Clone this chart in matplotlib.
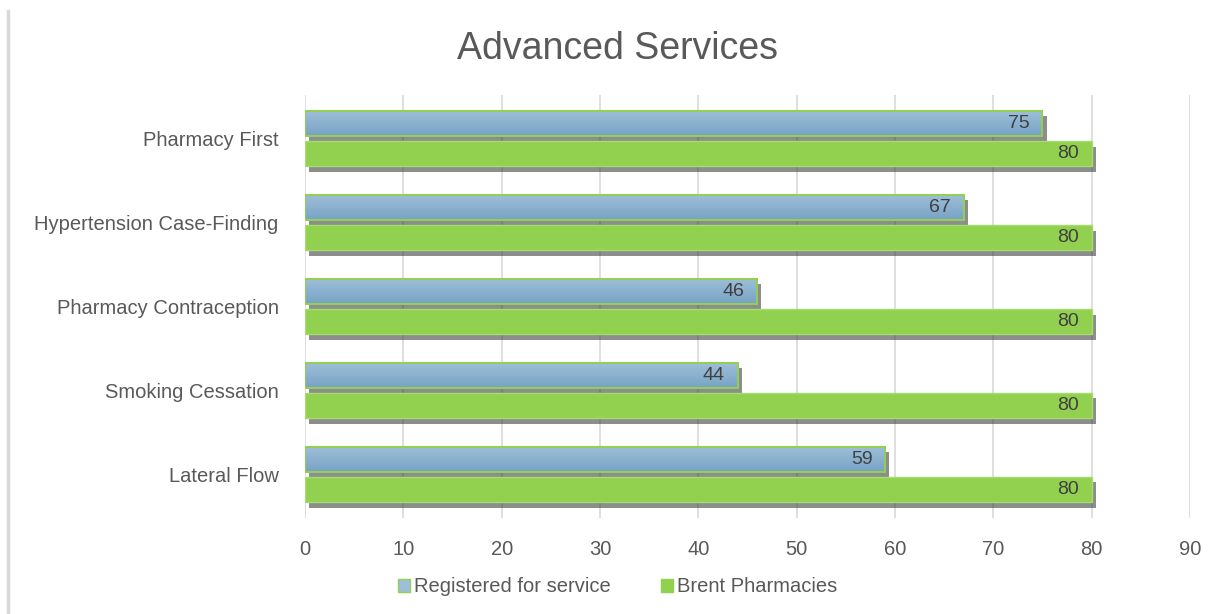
import numpy as np
import matplotlib
matplotlib.use('Agg')
import matplotlib.pyplot as plt
import matplotlib.patheffects as pe
from matplotlib.lines import Line2D
from matplotlib.patches import Patch

matplotlib.rcParams['font.family'] = ['Liberation Sans', 'DejaVu Sans']

categories = ['Pharmacy First', 'Hypertension Case-Finding', 'Pharmacy Contraception',
              'Smoking Cessation', 'Lateral Flow']
registered = [75, 67, 46, 44, 59]
brent = [80, 80, 80, 80, 80]
x_ticks = [0, 10, 20, 30, 40, 50, 60, 70, 80, 90]

text_grey = '#595959'
green = '#92d050'
blue_top = np.array([0.62, 0.75, 0.85])
blue_bot = np.array([0.47, 0.64, 0.77])

fig = plt.figure(figsize=(12.2, 6.14), dpi=100)
ax = fig.add_axes([0.25, 0.1564, 0.7254, 0.6889])

y = np.arange(len(categories))
h = 0.30
off = 0.18
shadow = [pe.SimplePatchShadow(offset=(3, -4), shadow_rgbFace='#303030', alpha=0.55), pe.Normal()]

# gradient for the blue bars
grad = np.linspace(0, 1, 64)[:, None]
grad_img = blue_top[None, None, :] * (1 - grad[:, :, None]) + blue_bot[None, None, :] * grad[:, :, None]

blue_bars = ax.barh(y - off, registered, height=h, color=blue_bot, edgecolor=green,
                    linewidth=1.2, zorder=3, path_effects=shadow)
green_bars = ax.barh(y + off, brent, height=h, color=green, edgecolor='#a6dc6e',
                     linewidth=1.0, zorder=3, path_effects=shadow)

for b in blue_bars:
    x0, y0, w, hh = b.get_x(), b.get_y(), b.get_width(), b.get_height()
    im = ax.imshow(grad_img, extent=[x0, x0 + w, y0 + hh, y0], aspect='auto', zorder=3.5,
                   interpolation='bilinear')
    im.set_clip_path(b)
    ax.barh(y0 + hh / 2, w, left=x0, height=hh, fill=False, edgecolor=green,
            linewidth=1.4, zorder=3.6)

for b, v in zip(blue_bars, registered):
    ax.text(b.get_width() - 1.3, b.get_y() + b.get_height() / 2, str(v), ha='right',
            va='center', fontsize=14, color='#404040', zorder=5)
for b, v in zip(green_bars, brent):
    ax.text(b.get_width() - 1.3, b.get_y() + b.get_height() / 2, str(v), ha='right',
            va='center', fontsize=14, color='#404040', zorder=5)

ax.set_xlim(0, 90)
ax.set_ylim(len(categories) - 0.48, -0.52)
ax.set_xticks(x_ticks)
ax.set_yticks(y)
ax.set_yticklabels(categories)
ax.tick_params(length=0, colors=text_grey, labelsize=14.5)
ax.tick_params(axis='x', pad=16)
ax.tick_params(axis='y', pad=19)
ax.grid(axis='x', color='#d9d9d9', linewidth=1.2, zorder=0)
ax.set_axisbelow(True)
for s in ax.spines.values():
    s.set_visible(False)

fig.text(0.506, 0.92, 'Advanced Services', ha='center', va='center', fontsize=27,
         color=text_grey)

handles = [Patch(facecolor=blue_top, edgecolor=green, label='Registered for service'),
           Patch(facecolor=green, edgecolor=green, label='Brent Pharmacies')]
fig.legend(handles=handles, loc='center', bbox_to_anchor=(0.506, 0.044), ncol=2,
           frameon=False, fontsize=14.5, labelcolor=text_grey, handlelength=0.6,
           handleheight=0.6, handletextpad=0.2, columnspacing=2.5)

fig.add_artist(Line2D([8 / 1220, 8 / 1220], [0, 1 - 11 / 614], color='#d9d9d9',
                      linewidth=2.5, transform=fig.transFigure))

fig.savefig('out.png', dpi=100)
